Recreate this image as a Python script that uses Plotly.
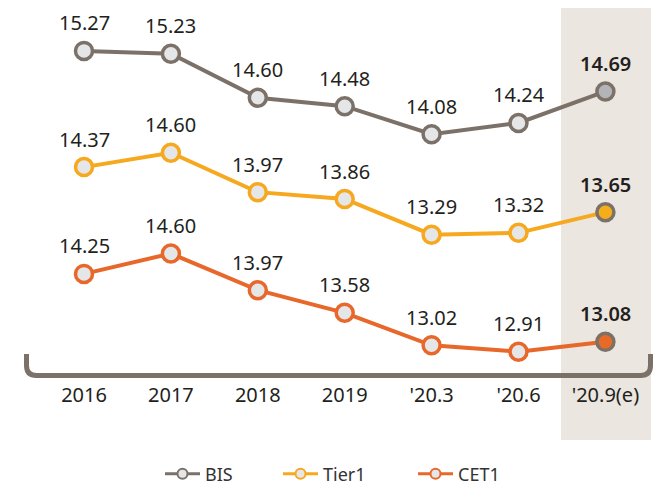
import plotly.graph_objects as go

categories = ["2016", "2017", "2018", "2019", "'20.3", "'20.6", "'20.9(e)"]
bis = [15.27, 15.23, 14.60, 14.48, 14.08, 14.24, 14.69]
tier1 = [14.37, 14.60, 13.97, 13.86, 13.29, 13.32, 13.65]
cet1 = [14.25, 14.60, 13.97, 13.58, 13.02, 12.91, 13.08]

# page is rendered with an 8px body margin -> work in page pixels
OFF = 8
PW, PH = 668, 485
FW, FH = PW - OFF, PH - OFF
PB = 381          # plot-area bottom (page px)
PT = OFF          # plot-area top (page px)
PLOT_H = PB - PT

def py(p):
    return (PB - p) / PLOT_H

def px(p):
    return (p - OFF) / FW

EDGE = "#7b7168"
MFILL = "#e5e6e8"
TXT = "#231f20"
FONT = "Noto Sans"

# (name, values, line colour, last-point fill, axis, px/unit, ref value, ref page px)
series = [
    ("BIS", bis, "#7b7168", "#b3b4b7", "y", 70.0, 14.656, 93.86),
    ("Tier1", tier1, "#f6a81f", "#f5ae1a", "y2", 62.6, 13.723, 207.6),
    ("CET1", cet1, "#e8672a", "#e86a26", "y3", 58.1, 13.63, 309.9),
]
legend_x = [165, 283, 418]  # page px where legend line starts

xs = list(range(len(categories)))
fig = go.Figure()
annotations = []
yaxes = {}
for idx, (name, vals, col, lastfill, yax, k, vref, pref) in enumerate(series):
    top = vref + (pref - PT) / k
    bot = vref - (PB - pref) / k
    yaxes[yax] = [bot, top]
    n = len(vals)
    fig.add_trace(go.Scatter(
        x=xs, y=vals, mode="lines+markers", name=name, yaxis=yax,
        showlegend=False, hoverinfo="skip",
        line=dict(color=col, width=4),
        marker=dict(size=17,
                    color=[MFILL] * (n - 1) + [lastfill],
                    line=dict(color=[col] * (n - 1) + [EDGE], width=3.5)),
    ))
    lg = "legend" if idx == 0 else f"legend{idx + 1}"
    fig.add_trace(go.Scatter(
        x=[None], y=[None], mode="lines+markers", name=name, yaxis=yax,
        legend=lg, showlegend=True,
        line=dict(color=col, width=3),
        marker=dict(size=10, color=MFILL, line=dict(color=col, width=2)),
    ))
    for i, v in enumerate(vals):
        last = i == n - 1
        annotations.append(dict(
            x=i, y=v, xref="x", yref=yax, text=f"{v:.2f}", showarrow=False,
            yshift=28, xanchor="center", yanchor="middle",
            font=dict(family=FONT, size=20, color=TXT,
                      weight=600 if last else 400),
        ))

# x mapping in page px: 84 + 86.9 * i
step = 86.9
x0 = 84 - OFF
xr = [(0 - x0) / step, (FW - x0) / step]

def xd(p):
    return (p - OFF - x0) / step

shapes = [
    dict(type="rect", xref="x", yref="paper",
         x0=xd(561), x1=xd(651), y0=py(440), y1=py(0),
         fillcolor="#ebe6df", line=dict(width=0), layer="below"),
]
xl, xrr = px(26.5), px(650.5)
yt, yb = py(354), py(375.5)
rx, ry = 10 / FW, 10 / PLOT_H
path = (f"M {xl},{yt} L {xl},{yb + ry} Q {xl},{yb} {xl + rx},{yb} "
        f"L {xrr - rx},{yb} Q {xrr},{yb} {xrr},{yb + ry} L {xrr},{yt}")
shapes.append(dict(type="path", xref="paper", yref="paper", path=path,
                   line=dict(color=EDGE, width=5), layer="below"))

hidden = dict(visible=False, fixedrange=True)

def legend_cfg(p):
    return dict(orientation="h", x=px(p - 5), xanchor="left", y=py(474),
                yanchor="middle", font=dict(family=FONT, size=18, color="#333333"),
                bgcolor="rgba(0,0,0,0)", borderwidth=0, itemwidth=35)

fig.update_layout(
    width=FW, height=FH,
    margin=dict(l=0, r=0, t=0, b=FH - (PB - OFF), pad=0, autoexpand=False),
    paper_bgcolor="white", plot_bgcolor="rgba(0,0,0,0)",
    font=dict(family=FONT, color=TXT),
    xaxis=dict(range=xr, tickvals=xs, ticktext=categories, showgrid=False,
               zeroline=False, showline=False, ticks="", automargin=False,
               tickfont=dict(family=FONT, size=20, color=TXT), fixedrange=True),
    yaxis=dict(range=yaxes["y"], **hidden),
    yaxis2=dict(range=yaxes["y2"], overlaying="y", **hidden),
    yaxis3=dict(range=yaxes["y3"], overlaying="y", **hidden),
    shapes=shapes,
    annotations=annotations,
    showlegend=True,
    legend=legend_cfg(legend_x[0]),
    legend2=legend_cfg(legend_x[1]),
    legend3=legend_cfg(legend_x[2]),
)

fig.write_html("out.html")
